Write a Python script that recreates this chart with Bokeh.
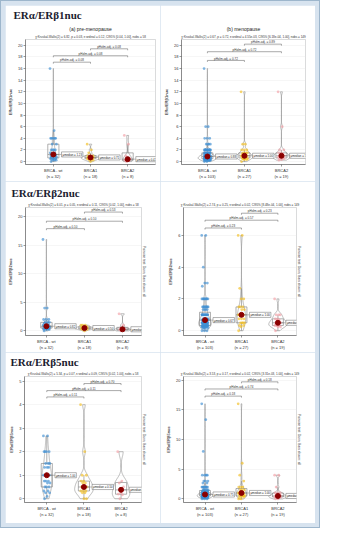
import numpy as np
from bokeh.plotting import figure
from bokeh.layouts import column, row
from bokeh.models import Title, Range1d, Label, FixedTicker
from bokeh.core.properties import value
from bokeh.embed import file_html
from bokeh.resources import INLINE

FONT = "Liberation Sans"
GROUP_NAMES = ["BRCA - wt", "BRCA1", "BRCA2"]
GROUP_COLORS = ["#3f8fd2", "#f2be22", "#f2a0a6"]

# ---------------- data (value / count tables) ----------------
# ERa/ERb1nuc (a) pre-menopause
b1pre_wt_vals = [16, 5.33, 4, 3, 2, 1.5, 1.33, 1.125, 1, 0.75, 0.67, 0.5, 0.33, 0.25, 0]
b1pre_wt_cnts = [1, 1, 5, 2, 4, 2, 1, 1, 3, 2, 2, 3, 2, 2, 1]
b1pre_b1_vals = [3, 2, 1.5, 1, 0.75, 0.67, 0.5, 0.33, 0.25, 0]
b1pre_b1_cnts = [1, 1, 1, 3, 3, 2, 3, 2, 1, 1]
b1pre_b2_vals = [4.5, 3, 1, 0.5, 0.33, 0.25, 0.17, 0]
b1pre_b2_cnts = [1, 1, 1, 1, 1, 1, 1, 1]
b1pre_medians = [1.23, 0.71, 0.42]
b1pre_n = [32, 18, 8]
b1pre_pvals = ["0.08", "0.08", "0.08"]
b1pre_bar_y = [17.1, 18.2, 19.4]

# ERa/ERb1nuc (b) menopause
b1post_wt_vals = [16, 6, 4, 3, 2, 1.5, 1.33, 1, 0.875, 0.75, 0.67, 0.5, 0.33, 0.25, 0.17, 0]
b1post_wt_cnts = [1, 2, 3, 4, 12, 8, 5, 16, 3, 8, 8, 14, 8, 6, 3, 2]
b1post_b1_vals = [12, 3, 2, 1.5, 1.33, 1, 0.75, 0.5, 0.33, 0]
b1post_b1_cnts = [1, 2, 3, 3, 2, 6, 3, 4, 2, 1]
b1post_b2_vals = [12, 6, 2, 1.5, 1.33, 1, 0.75, 0.5, 0.33, 0.25]
b1post_b2_cnts = [1, 1, 2, 2, 1, 5, 2, 3, 1, 1]
b1post_medians = [0.88, 1.00, 1.00]
b1post_n = [103, 27, 19]
b1post_pvals = ["0.72", "0.72", "0.89"]
b1post_bar_y = [17.4, 18.9, 20.2]

# ERa/ERb2nuc pre-menopause
b2pre_wt_vals = [16, 4, 2, 1.5, 1.33, 1, 0.89, 0.75, 0.67, 0.5, 0.33, 0.25, 0]
b2pre_wt_cnts = [1, 2, 3, 3, 2, 4, 1, 3, 3, 4, 3, 2, 1]
b2pre_b1_vals = [1, 0.75, 0.67, 0.5, 0.33, 0.25, 0]
b2pre_b1_cnts = [3, 2, 2, 5, 3, 2, 1]
b2pre_b2_vals = [3, 1, 0.5, 0.33, 0.25, 0.17, 0.1, 0]
b2pre_b2_cnts = [1, 1, 1, 1, 1, 1, 1, 1]
b2pre_medians = [0.82, 0.50, 0.29]
b2pre_n = [32, 18, 8]
b2pre_pvals = ["0.10", "0.10", "0.53"]
b2pre_bar_y = [17.9, 19.2, 20.8]

# ERa/ERb2nuc menopause
b2post_wt_vals = [6, 4, 3, 2.8, 2, 1.5, 1.33, 1, 0.75, 0.67, 0.5, 0.33, 0.25, 0.17, 0]
b2post_wt_cnts = [2, 1, 2, 1, 8, 8, 4, 14, 6, 10, 20, 12, 8, 4, 3]
b2post_b1_vals = [6, 2.67, 2, 1.5, 1.33, 1, 0.75, 0.5, 0.33, 0.25, 0]
b2post_b1_cnts = [2, 1, 2, 3, 2, 6, 3, 4, 2, 1, 1]
b2post_b2_vals = [2, 1, 0.75, 0.67, 0.5, 0.33, 0.25, 0]
b2post_b2_cnts = [1, 3, 2, 2, 4, 4, 2, 1]
b2post_medians = [0.67, 1.00, 0.50]
b2post_n = [103, 27, 19]
b2post_pvals = ["0.23", "0.57", "0.23"]
b2post_bar_y = [6.47, 6.96, 7.4]

# ERa/ERb5nuc pre-menopause
b5pre_wt_vals = [2.67, 2, 1.5, 1.33, 1, 0.75, 0.67, 0.5, 0.33, 0.25, 0.1, 0]
b5pre_wt_cnts = [2, 4, 3, 3, 6, 3, 2, 3, 2, 2, 1, 1]
b5pre_b1_vals = [4, 2, 1, 0.75, 0.67, 0.5, 0.33, 0.25, 0]
b5pre_b1_cnts = [1, 1, 2, 2, 2, 3, 3, 2, 2]
b5pre_b2_vals = [2, 0.75, 0.67, 0.5, 0.25, 0.2, 0.17, 0]
b5pre_b2_cnts = [1, 1, 1, 1, 1, 1, 1, 1]
b5pre_medians = [1.00, 0.50, 0.38]
b5pre_n = [32, 18, 8]
b5pre_pvals = ["0.11", "0.11", "0.70"]
b5pre_bar_y = [4.33, 4.6, 4.9]

# ERa/ERb5nuc menopause
b5post_wt_vals = [16, 13.33, 8, 4, 3, 2.67, 2, 1.5, 1.33, 1, 0.75, 0.67, 0.5, 0.33, 0.25, 0.17, 0]
b5post_wt_cnts = [1, 1, 1, 4, 3, 2, 8, 6, 4, 16, 10, 8, 16, 10, 7, 3, 3]
b5post_b1_vals = [16, 6, 4, 3, 2, 1.5, 1, 0.75, 0.5, 0.33, 0]
b5post_b1_cnts = [1, 1, 1, 1, 3, 3, 6, 3, 4, 2, 2]
b5post_b2_vals = [4, 2, 1, 0.75, 0.5, 0.33, 0.25, 0]
b5post_b2_cnts = [2, 1, 3, 2, 4, 3, 2, 2]
b5post_medians = [0.75, 1.00, 0.50]
b5post_n = [103, 27, 19]
b5post_pvals = ["0.18", "0.74", "0.18"]
b5post_bar_y = [17.3, 18.5, 19.7]

stat_b1pre = "χ²Kruskal-Wallis(2) = 6.82, p = 0.03, ε²ordinal = 0.12, CI95% [0.04, 1.00], nobs = 58"
stat_b1post = "χ²Kruskal-Wallis(2) = 0.67, p = 0.72, ε²ordinal = 4.55e-03, CI95% [6.18e-04, 1.00], nobs = 149"
stat_b2pre = "χ²Kruskal-Wallis(2) = 6.01, p = 0.05, ε²ordinal = 0.11, CI95% [0.02, 1.00], nobs = 58"
stat_b2post = "χ²Kruskal-Wallis(2) = 2.74, p = 0.25, ε²ordinal = 0.02, CI95% [8.48e-04, 1.00], nobs = 149"
stat_b5pre = "χ²Kruskal-Wallis(2) = 5.34, p = 0.07, ε²ordinal = 0.09, CI95% [0.02, 1.00], nobs = 58"
stat_b5post = "χ²Kruskal-Wallis(2) = 3.53, p = 0.17, ε²ordinal = 0.02, CI95% [3.31e-03, 1.00], nobs = 149"
strip_text = "Pairwise test: Dunn, Bars shown: all"


def expand(vals, cnts):
    return np.repeat(np.asarray(vals, float), np.asarray(cnts))


def kde(data, grid):
    n = len(data)
    sd = np.std(data, ddof=1)
    q75, q25 = np.percentile(data, [75, 25])
    iqr = (q75 - q25) / 1.34
    lo = min(sd, iqr) if iqr > 0 else sd
    bw = 0.9 * lo * n ** (-0.2)
    z = (grid[:, None] - data[None, :]) / bw
    return np.exp(-0.5 * z ** 2).sum(axis=1) / (n * bw * np.sqrt(2 * np.pi))


def make_panel(groups, meds, ns, ylab, yr, yticks, xr, bar_y, pvals, stat,
               w, h, bl, br, bt, bb, row_title=None, subtitle=None, strip=False):
    p = figure(width=w, height=h, x_range=Range1d(*xr), y_range=Range1d(*yr),
               output_backend="svg", toolbar_location=None,
               min_border_left=bl, min_border_right=br, min_border_top=bt, min_border_bottom=bb)
    p.background_fill_color = "white"
    p.border_fill_color = "white"
    p.outline_line_color = "#c8c8c8"
    p.outline_line_width = 0.6

    p.title.text = row_title if row_title else " "
    p.title.text_font = "Liberation Serif"
    p.title.text_font_size = "11px"
    p.title.text_font_style = "bold"
    p.title.text_color = "#1c1c30"
    p.title.align = "left"
    p.title.offset = -bl + 5
    p.title.standoff = 3
    p.add_layout(Title(text=stat, align="center", text_font=FONT, text_font_size="3px",
                       text_font_style="normal", text_color="#333333", standoff=2), "above")
    if subtitle is not None:
        p.add_layout(Title(text=subtitle, align="center", text_font=FONT, text_font_size="5px",
                           text_font_style="normal", text_color="#222222", standoff=2), "above")
    if strip:
        p.add_layout(Title(text=strip_text, align="center", text_font=FONT, text_font_size="3.2px",
                           text_font_style="normal", text_color="#333333", standoff=2), "right")

    p.xaxis.ticker = FixedTicker(ticks=[1, 2, 3])
    p.xaxis.major_label_overrides = {i + 1: f"{GROUP_NAMES[i]}\n(n = {ns[i]})" for i in range(3)}
    p.yaxis.ticker = FixedTicker(ticks=yticks)
    for ax in (p.xaxis[0], p.yaxis[0]):
        ax.major_label_text_font = FONT
        ax.major_label_text_font_size = "4px"
        ax.major_label_text_color = "#333333"
        ax.major_tick_in = 0
        ax.major_tick_out = 2
        ax.minor_tick_line_color = None
        ax.major_label_standoff = 1
        ax.axis_line_color = "#555555"
        ax.axis_line_width = 0.6
        ax.major_tick_line_color = "#555555"
        ax.major_tick_line_width = 0.6
    p.yaxis.axis_label = ylab
    p.yaxis.axis_label_text_font = FONT
    p.yaxis.axis_label_text_font_size = "4px"
    p.yaxis.axis_label_text_font_style = "bold"
    p.yaxis.axis_label_standoff = 2
    p.xgrid.grid_line_color = None
    p.ygrid.grid_line_color = "#ececec"
    p.ygrid.grid_line_width = 0.5

    data = [expand(v, c) for v, c in groups]
    dens = []
    for d in data:
        grid = np.linspace(d.min(), d.max(), 256)
        dens.append((grid, kde(d, grid)))
    dmax = max(de.max() for _, de in dens)

    for i, d in enumerate(data):
        xc = i + 1
        grid, de = dens[i]
        hw = 0.25 * de / dmax
        xs = np.concatenate([xc - hw, (xc + hw)[::-1]])
        ys = np.concatenate([grid, grid[::-1]])
        p.patch(xs, ys, fill_color="white", fill_alpha=0.2, line_color="#8c8c8c", line_width=0.6)
        q1, q2, q3 = np.percentile(d, [25, 50, 75])
        iqr = q3 - q1
        lo_w = d[d >= q1 - 1.5 * iqr].min()
        hi_w = d[d <= q3 + 1.5 * iqr].max()
        p.quad(left=[xc - 0.15], right=[xc + 0.15], bottom=[q1], top=[q3],
               fill_alpha=0, line_color="#7a7a7a", line_width=0.6)
        p.segment(x0=[xc - 0.15, xc, xc], y0=[q2, q3, q1], x1=[xc + 0.15, xc, xc], y1=[q2, hi_w, lo_w],
                  line_color="#7a7a7a", line_width=0.6)
        jit = ((np.arange(len(d)) * 0.618034) % 1 - 0.5) * 0.18
        p.scatter(xc + jit, d, size=2.8, fill_color=GROUP_COLORS[i], fill_alpha=0.65, line_color=None)
        med = meds[i]
        p.segment(x0=[xc], y0=[med], x1=[xc + 0.22], y1=[med], line_color="#777777", line_width=0.5)
        p.scatter([xc], [med], size=5, fill_color="#8b0000", line_color="#8b0000")
        p.add_layout(Label(x=xc + 0.22, y=med, text=f"μmedian = {med:.2f}", text_font=FONT,
                           text_font_size="2.8px", text_color="#222222", text_align="left",
                           text_baseline="middle", background_fill_color="white",
                           border_line_color="#666666", border_line_width=0.5, padding=1))

    tip = 0.012 * (yr[1] - yr[0])
    for (a, b), yb, pv in zip([(1, 2), (1, 3), (2, 3)], bar_y, pvals):
        p.line([a, a, b, b], [yb - tip, yb, yb, yb - tip], line_color="#555555", line_width=0.5)
        p.text(x=[(a + b) / 2], y=[yb], text=[f"pHolm-adj. = {pv}"], text_font=value(FONT),
               text_font_size="3px", text_align="center", text_baseline="bottom",
               y_offset=-0.5, text_color="#333333")
    return p


W = 155
p1 = make_panel([(b1pre_wt_vals, b1pre_wt_cnts), (b1pre_b1_vals, b1pre_b1_cnts), (b1pre_b2_vals, b1pre_b2_cnts)],
                b1pre_medians, b1pre_n, "ERα/ERβ1nuc", (-0.5, 21), list(range(0, 21, 2)), (0.25, 3.75),
                b1pre_bar_y, b1pre_pvals, stat_b1pre, W, 176, 17, 5, 33, 13,
                row_title="ERα/ERβ1nuc", subtitle="(a) pre-menopause")
p2 = make_panel([(b1post_wt_vals, b1post_wt_cnts), (b1post_b1_vals, b1post_b1_cnts), (b1post_b2_vals, b1post_b2_cnts)],
                b1post_medians, b1post_n, "ERα/ERβ1nuc", (-0.5, 21), list(range(0, 21, 2)), (0.3, 3.65),
                b1post_bar_y, b1post_pvals, stat_b1post, W, 176, 21, 10, 33, 13,
                subtitle="(b) menopause")
p3 = make_panel([(b2pre_wt_vals, b2pre_wt_cnts), (b2pre_b1_vals, b2pre_b1_cnts), (b2pre_b2_vals, b2pre_b2_cnts)],
                b2pre_medians, b2pre_n, "ERα/ERβ2nuc", (-0.8, 21.6), [0, 5, 10, 15, 20], (0.45, 3.5),
                b2pre_bar_y, b2pre_pvals, stat_b2pre, W, 171, 19, 19, 26, 15,
                row_title="ERα/ERβ2nuc", strip=True)
p4 = make_panel([(b2post_wt_vals, b2post_wt_cnts), (b2post_b1_vals, b2post_b1_cnts), (b2post_b2_vals, b2post_b2_cnts)],
                b2post_medians, b2post_n, "ERα/ERβ2nuc", (-0.3, 7.76), [0, 2, 4, 6], (0.41, 3.51),
                b2post_bar_y, b2post_pvals, stat_b2post, W, 171, 23, 19, 26, 15, strip=True)
p5 = make_panel([(b5pre_wt_vals, b5pre_wt_cnts), (b5pre_b1_vals, b5pre_b1_cnts), (b5pre_b2_vals, b5pre_b2_cnts)],
                b5pre_medians, b5pre_n, "ERα/ERβ5nuc", (-0.16, 5.2), [0, 1, 2, 3, 4, 5], (0.4, 3.55),
                b5pre_bar_y, b5pre_pvals, stat_b5pre, W, 171, 19, 19, 22, 21,
                row_title="ERα/ERβ5nuc", strip=True)
p6 = make_panel([(b5post_wt_vals, b5post_wt_cnts), (b5post_b1_vals, b5post_b1_cnts), (b5post_b2_vals, b5post_b2_cnts)],
                b5post_medians, b5post_n, "ERα/ERβ5nuc", (-0.6, 20.6), [0, 5, 10, 15, 20], (0.41, 3.51),
                b5post_bar_y, b5post_pvals, stat_b5post, W, 171, 23, 19, 22, 21, strip=True)

layout = column(row(p1, p2, spacing=0), row(p3, p4, spacing=0), row(p5, p6, spacing=0), spacing=0,
                styles={"background-color": "#d7e3ef", "padding": "4px", "border": "1px solid #9db6cc"})

open("out.html", "w").write(file_html(layout, INLINE))
